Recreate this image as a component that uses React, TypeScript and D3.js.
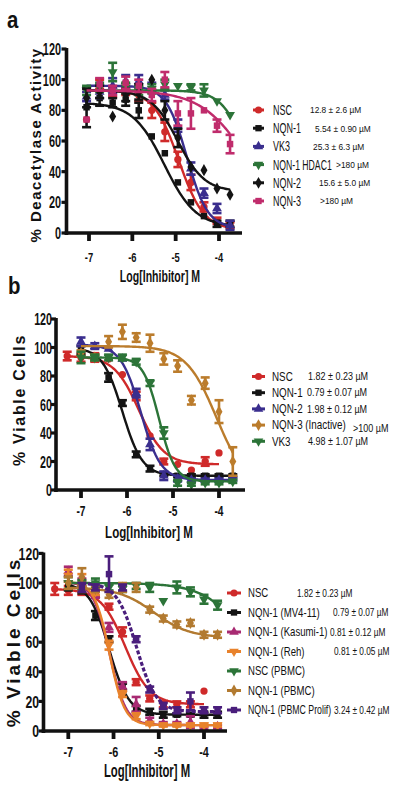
import React from "react";
import * as d3 from "d3";

type Shape = "circle" | "square" | "triUp" | "triDown" | "diamond";

// ---------------- Panel a : deacetylase activity ----------------
const dosesA = [-7.056, -6.755, -6.454, -6.153, -5.852, -5.551, -5.25, -4.949, -4.648, -4.347, -4.046, -3.745];
const namesA = ["NSC", "NQN-1", "VK3", "NQN-1 HDAC1", "NQN-2", "NQN-3"];
const ic50A = ["12.8 ± 2.6 µM", "5.54 ± 0.90 µM", "25.3 ± 6.3 µM", ">180 µM", "15.6 ± 5.0 µM", ">180 µM"];
const nscMeanA = [74, 97, 92, 93, 90, 80, 66, 48, 33, 17, 8, 5];
const nscErrA = [0, 3, 3, 3, 4, 5, 6, 5, 5, 3, 2, 2];
const nqn1MeanA = [82, 88, 85, 87, 80, 63, 52, 33, 20, 11, 6, 6];
const nqn1ErrA = [13, 5, 3, 4, 5, 0, 0, 0, 0, 0, 2, 2];
const vk3MeanA = [89, 92, 96, 99, 99, 95, 90, 70, 42, 26, 16, 5];
const vk3ErrA = [3, 4, 5, 4, 4, 3, 3, 4, 4, 3, 3, 3];
const hdacMeanA = [93, 95, 105, 95, 93, 94, 97, 96, 95, 93, 86, 77];
const hdacErrA = [3, 3, 6, 3, 3, 3, 3, 0, 2, 4, 0, 0];
const nqn2MeanA = [88, 92, 76, 90, 92, 100, 80, 62, 43, 41, 29, 25];
const nqn2ErrA = [6, 4, 0, 4, 5, 0, 6, 6, 0, 0, 0, 0];
const nqn3MeanA = [74, 97, 93, 98, 96, 90, 100, 78, 78, 80, 70, 58];
const nqn3ErrA = [0, 4, 3, 4, 4, 4, 5, 8, 10, 0, 4, 6];
// fitted 4PL parameters [top, bottom, logIC50, hill]
const nscFitA = [93, 2, -4.93, 1.5];
const nqn1FitA = [85, 4, -5.26, 1.2];
const vk3FitA = [96, 3, -4.74, 1.8];
const hdacFitA = [93, 0, -3.3, 1.5];
const nqn2FitA = [93, 27, -4.95, 1.4];
const nqn3FitA = [93, 0, -3.3, 0.8];

// ---------------- Panel b : viable cells ----------------
const dosesB = [-7.3, -7.0, -6.7, -6.4, -6.1, -5.8, -5.5, -5.2, -4.9, -4.6, -4.3, -4.0, -3.7];
const namesB = ["NSC", "NQN-1", "NQN-2", "NQN-3 (Inactive)", "VK3"];
const ic50B = ["1.82 ± 0.23 µM", "0.79 ± 0.07 µM", "1.98 ± 0.12 µM", ">100 µM", "4.98 ± 1.07 µM"];
const nscMeanB = [94, 93, 93, 92, 81, 66, 38, 20, 18, 14, 20, 26, null];
const nscErrB = [3, 3, 3, 0, 0, 3, 0, 2, 0, 0, 3, 0, 0];
const nqn1MeanB = [null, 98, 93, 79, 61, 25, 15, 11, 10, 10, 10, 10, 10];
const nqn1ErrB = [0, 3, 2, 3, 2, 2, 2, 1, 1, 1, 1, 1, 1];
const nqn2MeanB = [null, 104, 101, 99, 92, 68, 32, 10, 8, 7, 7, 7, 8];
const nqn2ErrB = [0, 3, 2, 0, 0, 3, 4, 3, 2, 1, 1, 1, 1];
const nqn3MeanB = [null, 96, 93, 104, 111, 107, 103, 92, 87, 63, 75, 55, 20];
const nqn3ErrB = [0, 2, 2, 4, 5, 3, 6, 4, 4, 3, 4, 8, 10];
const vk3MeanB = [null, 93, 93, 93, 93, 90, 75, 40, 5, 4, 5, 5, 6];
const vk3ErrB = [0, 4, 2, 2, 2, 2, 2, 4, 2, 1, 1, 1, 1];
const nscFitB = [94, 18, -5.74, 1.6];
const nqn1FitB = [100, 10, -6.1, 2.0];
const nqn2FitB = [102, 7, -5.7, 2.0];
const nqn3FitB = [101, 0, -4.05, 1.3];
const vk3FitB = [93, 6, -5.3, 2.5];

// ---------------- Panel c : viable cells, cell lines ----------------
const dosesC = [-7.3, -7.0, -6.7, -6.4, -6.1, -5.8, -5.5, -5.2, -4.9, -4.6, -4.3, -4.0, -3.7];
const namesC = ["NSC", "NQN-1 (MV4-11)", "NQN-1 (Kasumi-1)", "NQN-1 (Reh)", "NSC (PBMC)", "NQN-1 (PBMC)", "NQN-1 (PBMC Prolif)"];
const ic50C = ["1.82 ± 0.23 µM", "0.79 ± 0.07 µM", "0.81 ± 0.12 µM", "0.81 ± 0.05 µM", "", "", "3.24 ± 0.42 µM"];
const nscMeanC = [96, 95, 95, 94, 84, 67, 33, 22, 18, 18, 18, 27, null];
const nscErrC = [4, 3, 3, 3, 2, 3, 2, 2, 2, 2, 2, 0, 0];
const mv4MeanC = [null, 98, 95, 78, 62, 30, 15, 13, 11, 11, 11, 11, 11];
const mv4ErrC = [0, 3, 2, 3, 2, 2, 2, 2, 2, 1, 1, 2, 2];
const kasMeanC = [null, 108, 100, 92, 70, 30, 18, 7, 5, 5, 6, 2, 3];
const kasErrC = [0, 3, 3, 2, 3, 3, 5, 2, 1, 1, 4, 1, 1];
const rehMeanC = [null, 105, 100, 94, 58, 25, 10, 5, 4, 4, 4, 4, 4];
const rehErrC = [0, 4, 6, 2, 3, 2, 2, 1, 1, 1, 1, 1, 1];
const pbmcNscMeanC = [null, 100, 99, 100, 97, 96, 98, 97, 88, 97, 94, 89, 85];
const pbmcNscErrC = [0, 4, 3, 3, 2, 2, 2, 3, 0, 4, 3, 3, 3];
const pbmcMeanC = [null, 100, 104, 96, 92, 97, 97, 82, 76, 72, 73, 65, 65];
const pbmcErrC = [0, 4, 6, 2, 2, 3, 3, 2, 2, 2, 2, 2, 2];
const prolifMeanC = [null, null, 97, 97, 106, 97, 62, 28, 17, 14, 20, 14, 14];
const prolifErrC = [0, 0, 3, 2, 12, 2, 2, 2, 2, 2, 6, 2, 2];
const nscFitC = [96, 18, -5.74, 1.6];
const mv4FitC = [100, 11, -6.1, 2.0];
const kasFitC = [101, 4, -6.09, 2.4];
const rehFitC = [101, 4, -6.09, 2.6];
const pbmcNscFitC = [100, 0, -2.85, 0.9];
const pbmcFitC = [97, 63, -5.1, 1.1];
const prolifFitC = [100, 13, -5.49, 2.0];

const xTicks = [-7, -6, -5, -4];
const yTicks = [0, 20, 40, 60, 80, 100, 120];

// ---------------- styles ----------------
const RED = "#cf2a2a";
const BLK = "#141414";
const BLUE = "#3a2e8e";
const GREEN = "#2c7438";
const PINK = "#c02c6c";
const BROWN = "#bb7c2c";
const MAG = "#a82a72";
const ORANGE = "#e8822c";
const PBROWN = "#b27a30";
const PURPLE = "#4a1e7c";
const FONT = "'Liberation Sans', Arial, sans-serif";

type S = {
  name: string;
  ic50: string;
  mean: (number | null)[];
  err: number[];
  fit: number[];
  color: string;
  shape: Shape;
  dashed?: boolean;
};

const seriesA: S[] = [
  { name: namesA[0], ic50: ic50A[0], mean: nscMeanA, err: nscErrA, fit: nscFitA, color: RED, shape: "circle" },
  { name: namesA[1], ic50: ic50A[1], mean: nqn1MeanA, err: nqn1ErrA, fit: nqn1FitA, color: BLK, shape: "square" },
  { name: namesA[2], ic50: ic50A[2], mean: vk3MeanA, err: vk3ErrA, fit: vk3FitA, color: BLUE, shape: "triUp" },
  { name: namesA[3], ic50: ic50A[3], mean: hdacMeanA, err: hdacErrA, fit: hdacFitA, color: GREEN, shape: "triDown" },
  { name: namesA[4], ic50: ic50A[4], mean: nqn2MeanA, err: nqn2ErrA, fit: nqn2FitA, color: BLK, shape: "diamond" },
  { name: namesA[5], ic50: ic50A[5], mean: nqn3MeanA, err: nqn3ErrA, fit: nqn3FitA, color: PINK, shape: "square" },
];
const seriesB: S[] = [
  { name: namesB[0], ic50: ic50B[0], mean: nscMeanB, err: nscErrB, fit: nscFitB, color: RED, shape: "circle" },
  { name: namesB[1], ic50: ic50B[1], mean: nqn1MeanB, err: nqn1ErrB, fit: nqn1FitB, color: BLK, shape: "square" },
  { name: namesB[2], ic50: ic50B[2], mean: nqn2MeanB, err: nqn2ErrB, fit: nqn2FitB, color: BLUE, shape: "triUp" },
  { name: namesB[3], ic50: ic50B[3], mean: nqn3MeanB, err: nqn3ErrB, fit: nqn3FitB, color: BROWN, shape: "diamond" },
  { name: namesB[4], ic50: ic50B[4], mean: vk3MeanB, err: vk3ErrB, fit: vk3FitB, color: GREEN, shape: "triDown" },
];
const seriesC: S[] = [
  { name: namesC[0], ic50: ic50C[0], mean: nscMeanC, err: nscErrC, fit: nscFitC, color: RED, shape: "circle" },
  { name: namesC[1], ic50: ic50C[1], mean: mv4MeanC, err: mv4ErrC, fit: mv4FitC, color: BLK, shape: "square" },
  { name: namesC[2], ic50: ic50C[2], mean: kasMeanC, err: kasErrC, fit: kasFitC, color: MAG, shape: "triUp" },
  { name: namesC[3], ic50: ic50C[3], mean: rehMeanC, err: rehErrC, fit: rehFitC, color: ORANGE, shape: "triDown" },
  { name: namesC[4], ic50: ic50C[4], mean: pbmcNscMeanC, err: pbmcNscErrC, fit: pbmcNscFitC, color: GREEN, shape: "triDown" },
  { name: namesC[5], ic50: ic50C[5], mean: pbmcMeanC, err: pbmcErrC, fit: pbmcFitC, color: PBROWN, shape: "diamond" },
  { name: namesC[6], ic50: ic50C[6], mean: prolifMeanC, err: prolifErrC, fit: prolifFitC, color: PURPLE, shape: "square", dashed: true },
];

const sigmoid = (p: number[], lx: number) => p[1] + (p[0] - p[1]) / (1 + Math.pow(10, p[3] * (lx - p[2])));

function symPath(shape: Shape, size: number) {
  const t =
    shape === "circle" ? d3.symbolCircle : shape === "square" ? d3.symbolSquare : shape === "diamond" ? d3.symbolDiamond : d3.symbolTriangle;
  return d3.symbol().type(t).size(size)() as string;
}

function Marker({ x, y, shape, color, size = 42 }: { x: number; y: number; shape: Shape; color: string; size?: number }) {
  const rot = shape === "triDown" ? " rotate(180)" : "";
  return <path d={symPath(shape, size)} transform={`translate(${x},${y})${rot}`} fill={color} />;
}

function NText(props: {
  x: number; y: number; sx?: number; size: number; weight?: string; anchor?: string; children: React.ReactNode; fill?: string; ls?: number;
}) {
  const { x, y, sx = 1, size, weight = "normal", anchor = "start", children, fill = "#111", ls } = props;
  return (
    <text
      transform={`translate(${x},${y}) scale(${sx},1)`}
      fontSize={size}
      fontWeight={weight}
      textAnchor={anchor as any}
      fill={fill}
      fontFamily={FONT}
      letterSpacing={ls}
    >
      {children}
    </text>
  );
}

type Layout = {
  xr: [number, number]; // pixel range for [-7,-4]
  yr: [number, number]; // pixel range for [0,120]
  axisX: number;
  xEnd: number;
  yTickLabelX: number; yTickSize: number; yTickSx: number;
  xTickLabelY: number; xTickSize: number; xTickSx: number;
  xTitleX: number; xTitleY: number; xTitleSize: number; xTitleSx: number;
  yTitleX: number; yTitleY: number; yTitle: string; yTitleSize: number; yTitleLs: number;
  letter: string; letterX: number; letterY: number;
  leg: { y0: number; step: number; x1: number; x2: number; labelX: number; labelSize: number; labelSx: number[]; valX: number[]; valSize: number; valSx: number; valDy: number[] };
};

function Panel({ doses, series, L }: { doses: number[]; series: S[]; L: Layout }) {
  const x = d3.scaleLinear().domain([-7, -4]).range(L.xr);
  const y = d3.scaleLinear().domain([0, 120]).range(L.yr);
  const line = d3.line<[number, number]>().x((d) => x(d[0])).y((d) => y(d[1]));
  const y0 = y(0);
  return (
    <g>
      {L.letter && <NText x={L.letterX} y={L.letterY} size={24} weight="bold" sx={0.85}>{L.letter}</NText>}
      {/* series */}
      {series.map((s, si) => {
        const idx = s.mean.map((m, i) => (m === null ? -1 : i)).filter((i) => i >= 0);
        const lo = doses[idx[0]];
        const hi = doses[idx[idx.length - 1]];
        const pts: [number, number][] = d3.range(0, 121).map((k) => {
          const lx = lo + ((hi - lo) * k) / 120;
          return [lx, sigmoid(s.fit, lx)];
        });
        return (
          <g key={si}>
            <path d={line(pts) as string} fill="none" stroke={s.color} strokeWidth={s.dashed ? 3.2 : 2.4} strokeDasharray={s.dashed ? "4 2" : undefined} />
            {idx.map((i) => {
              const m = s.mean[i] as number;
              const e = s.err[i];
              const cx = x(doses[i]);
              return (
                <g key={i}>
                  {e > 0 && (
                    <g stroke={s.color} strokeWidth={2.6}>
                      <line x1={cx} x2={cx} y1={y(m - e)} y2={y(m + e)} />
                      <line x1={cx - 4.5} x2={cx + 4.5} y1={y(m - e)} y2={y(m - e)} />
                      <line x1={cx - 4.5} x2={cx + 4.5} y1={y(m + e)} y2={y(m + e)} />
                    </g>
                  )}
                  <Marker x={cx} y={y(m)} shape={s.shape} color={s.color} />
                </g>
              );
            })}
          </g>
        );
      })}
      {/* axes */}
      <line x1={L.axisX} x2={L.axisX} y1={y0 + 2} y2={y(120) - 1} stroke="#111" strokeWidth={3.6} />
      <line x1={L.axisX - 1.8} x2={L.xEnd} y1={y0} y2={y0} stroke="#111" strokeWidth={3.6} />
      {yTicks.map((t) => (
        <g key={t}>
          <line x1={L.axisX - 5} x2={L.axisX} y1={y(t)} y2={y(t)} stroke="#111" strokeWidth={3.2} />
          <NText x={L.yTickLabelX} y={y(t) + L.yTickSize * 0.36} size={L.yTickSize} weight="bold" sx={L.yTickSx} anchor="end">
            {t}
          </NText>
        </g>
      ))}
      {xTicks.map((t) => (
        <g key={t}>
          <line x1={x(t)} x2={x(t)} y1={y0} y2={y0 + 8} stroke="#111" strokeWidth={3.8} />
          <NText x={x(t)} y={L.xTickLabelY} size={L.xTickSize} weight="bold" sx={L.xTickSx} anchor="middle">
            {String(t)}
          </NText>
        </g>
      ))}
      <NText x={L.xTitleX} y={L.xTitleY} size={L.xTitleSize} weight="bold" sx={L.xTitleSx} anchor="middle">
        Log[Inhibitor] M
      </NText>
      <text
        transform={`translate(${L.yTitleX},${L.yTitleY}) rotate(-90)`}
        fontSize={L.yTitleSize}
        fontWeight="bold"
        fontFamily={FONT}
        textAnchor="middle"
        letterSpacing={L.yTitleLs}
        fill="#111"
      >
        {L.yTitle}
      </text>
      {/* legend */}
      {series.map((s, si) => {
        const ry = L.leg.y0 + si * L.leg.step;
        return (
          <g key={"l" + si}>
            <line x1={L.leg.x1} x2={L.leg.x2} y1={ry} y2={ry} stroke={s.color} strokeWidth={3} />
            <Marker x={(L.leg.x1 + L.leg.x2) / 2} y={ry} shape={s.shape} color={s.color} size={40} />
            <NText x={L.leg.labelX} y={ry + L.leg.labelSize * 0.36} size={L.leg.labelSize} sx={L.leg.labelSx[si]}>
              {s.name}
            </NText>
            {s.ic50 && (
              <NText x={L.leg.valX[si]} y={ry + L.leg.valSize * 0.36 + L.leg.valDy[si]} size={L.leg.valSize} sx={L.leg.valSx}>
                {s.ic50}
              </NText>
            )}
          </g>
        );
      })}
    </g>
  );
}

const layoutA: Layout = {
  xr: [89, 219], yr: [233, 49], axisX: 66.5, xEnd: 242,
  yTickLabelX: 61, yTickSize: 17, yTickSx: 0.64,
  xTickLabelY: 262, xTickSize: 13, xTickSx: 0.72,
  xTitleX: 160, xTitleY: 282, xTitleSize: 16, xTitleSx: 0.66,
  yTitleX: 41, yTitleY: 145, yTitle: "% Deacetylase Activity", yTitleSize: 15, yTitleLs: 1.5,
  letter: "a", letterX: 7, letterY: 28,
  leg: { y0: 110, step: 18.2, x1: 253, x2: 264, labelX: 273, labelSize: 14, labelSx: [0.64, 0.64, 0.64, 0.62, 0.64, 0.64], valX: [310, 315, 313, 336, 319, 320], valSize: 9.5, valSx: 0.88, valDy: [0, 0, 0, 0, 0, 0] },
};
const layoutB: Layout = {
  xr: [81, 219], yr: [490, 319], axisX: 56, xEnd: 245,
  yTickLabelX: 52, yTickSize: 17, yTickSx: 0.63,
  xTickLabelY: 516, xTickSize: 15, xTickSx: 0.68,
  xTitleX: 149, xTitleY: 538, xTitleSize: 17, xTitleSx: 0.68,
  yTitleX: 25, yTitleY: 400, yTitle: "% Viable Cells", yTitleSize: 16, yTitleLs: 1.7,
  letter: "b", letterX: 8, letterY: 294,
  leg: { y0: 376.5, step: 16.2, x1: 252, x2: 265, labelX: 272, labelSize: 12, labelSx: [0.82, 0.82, 0.82, 0.82, 0.82], valX: [308, 307, 307, 353, 308], valSize: 10, valSx: 0.9, valDy: [0, 0, 0, 3, 0] },
};
const layoutC: Layout = {
  xr: [68.3, 204], yr: [731, 553.4], axisX: 43.5, xEnd: 227,
  yTickLabelX: 39, yTickSize: 17, yTickSx: 0.72,
  xTickLabelY: 757, xTickSize: 15, xTickSx: 0.72,
  xTitleX: 147, xTitleY: 777, xTitleSize: 18, xTitleSx: 0.63,
  yTitleX: 20, yTitleY: 642, yTitle: "% Viable Cells", yTitleSize: 19, yTitleLs: 3,
  letter: "", letterX: 0, letterY: 0,
  leg: { y0: 593, step: 19.5, x1: 227, x2: 241, labelX: 248, labelSize: 12, labelSx: [0.8, 0.8, 0.8, 0.8, 0.8, 0.8, 0.73], valX: [297, 333, 330, 334, 0, 0, 334], valSize: 10, valSx: 0.83, valDy: [0, 0, 0, 0, 0, 0, 0] },
};

export default function App() {
  return (
    <svg width={400} height={790} viewBox="0 0 400 790" style={{ position: "absolute", left: 0, top: 0, background: "#fff" }}>
      <rect width={400} height={790} fill="#fff" />
      <Panel doses={dosesA} series={seriesA} L={layoutA} />
      <Panel doses={dosesB} series={seriesB} L={layoutB} />
      <Panel doses={dosesC} series={seriesC} L={layoutC} />
    </svg>
  );
}
